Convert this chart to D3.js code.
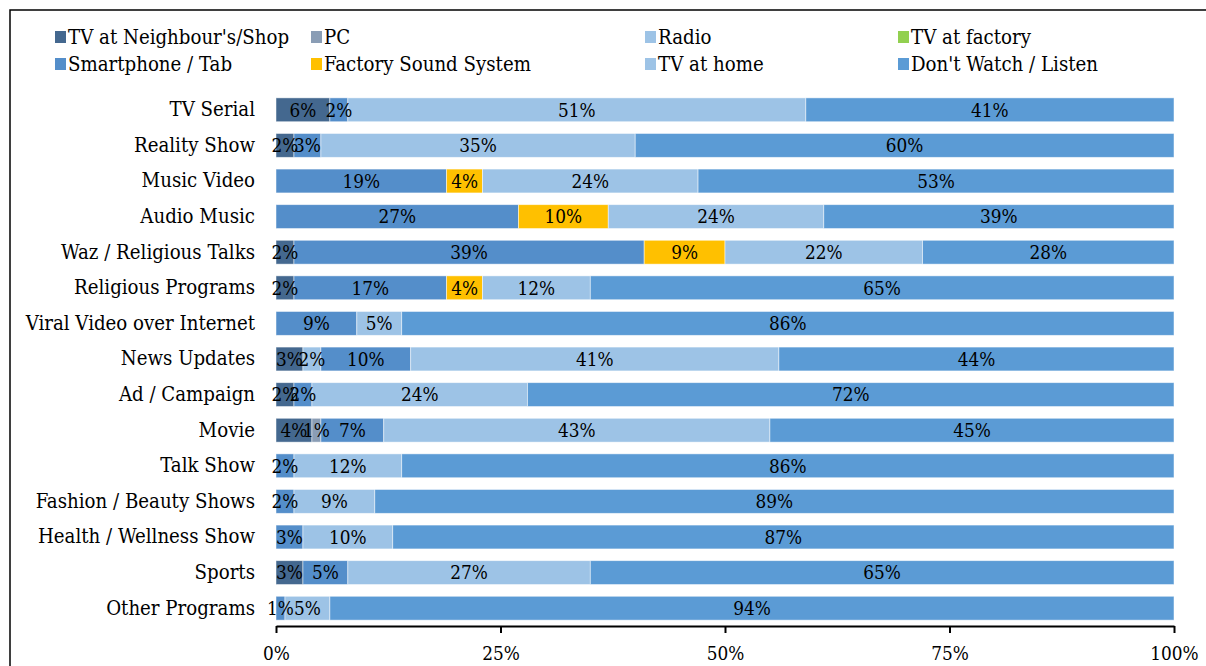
<!DOCTYPE html>
<html>
<head>
<meta charset="utf-8">
<script src="https://cdn.jsdelivr.net/npm/d3@7"></script>
<style>
  html, body { margin: 0; padding: 0; background: #fff; }
  svg { display: block; }
  text { font-family: "DejaVu Serif Condensed", "DejaVu Serif", "Liberation Serif", serif; font-stretch: condensed; fill: #000; }
</style>
</head>
<body>
<svg id="chart" width="1206" height="666"></svg>
<script>
// ---- Data ----
const categories = [
  "TV Serial", "Reality Show", "Music Video", "Audio Music", "Waz / Religious Talks",
  "Religious Programs", "Viral Video over Internet", "News Updates", "Ad / Campaign",
  "Movie", "Talk Show", "Fashion / Beauty Shows", "Health / Wellness Show", "Sports",
  "Other Programs"
];
const seriesNames = [
  "TV at Neighbour's/Shop", "PC", "Radio", "TV at factory",
  "Smartphone / Tab", "Factory Sound System", "TV at home", "Don't Watch / Listen"
];
const seriesColors = ["#44688F", "#8A9DB5", "#9DC3E6", "#92D050", "#548ECA", "#FFC000", "#9DC3E6", "#5B9BD5"];
// values per series, aligned with categories (percent)
const tvNeighbour = [6, 2, 0, 0, 2, 2, 0, 3, 2, 4, 0, 0, 0, 3, 0];
const pc          = [0, 0, 0, 0, 0, 0, 0, 0, 0, 1, 0, 0, 0, 0, 0];
const radio       = [0, 0, 0, 0, 0, 0, 0, 2, 0, 0, 0, 0, 0, 0, 0];
const tvFactory   = [0, 0, 0, 0, 0, 0, 0, 0, 0, 0, 0, 0, 0, 0, 0];
const smartphone  = [2, 3, 19, 27, 39, 17, 9, 10, 2, 7, 2, 2, 3, 5, 1];
const factorySound= [0, 0, 4, 10, 9, 4, 0, 0, 0, 0, 0, 0, 0, 0, 0];
const tvHome      = [51, 35, 24, 24, 22, 12, 5, 41, 24, 43, 12, 9, 10, 27, 5];
const dontWatch   = [41, 60, 53, 39, 28, 65, 86, 44, 72, 45, 86, 89, 87, 65, 94];
const seriesValues = [tvNeighbour, pc, radio, tvFactory, smartphone, factorySound, tvHome, dontWatch];
const xTicks = [0, 25, 50, 75, 100];

// ---- Layout ----
const svg = d3.select("#chart");
const W = 1206, H = 666;

// fit font sizes so that the serif text roughly matches the reference text widths
function measure(texts) {
  let w = 0;
  texts.forEach(t => {
    const p = svg.append("text").attr("font-size", 20).text(t);
    w += p.node().getComputedTextLength();
    p.remove();
  });
  return w;
}
const FS = 20 * 710 / measure(["TV Serial", "Waz / Religious Talks", "Other Programs", "Sports", "TV at Neighbour's/Shop"]);
const FSL = 20 * 86 / measure(["35%", "100%"]);

const rows = categories.map((c, i) => {
  const r = { category: c };
  seriesNames.forEach((s, j) => r[s] = seriesValues[j][i]);
  return r;
});
const stacked = d3.stack().keys(seriesNames)(rows);

const x = d3.scaleLinear().domain([0, 100]).range([276, 1174]);
const y = d3.scaleBand().domain(categories).range([92, 626]).paddingInner(0.33).paddingOuter(0.165);
const color = d3.scaleOrdinal().domain(seriesNames).range(seriesColors);

// frame
svg.append("path")
  .attr("d", `M10,${H + 5} L10,10 L${W + 5},10`)
  .attr("fill", "none").attr("stroke", "#000").attr("stroke-width", 1.5);

// bars
const g = svg.append("g");
stacked.forEach(layer => {
  const key = layer.key;
  const lg = g.append("g").attr("fill", color(key));
  lg.selectAll("rect").data(layer.filter(d => d[1] - d[0] > 0)).join("rect")
    .attr("x", d => x(d[0]))
    .attr("y", d => y(d.data.category))
    .attr("width", d => x(d[1]) - x(d[0]))
    .attr("height", y.bandwidth())
    .attr("stroke", "#fff").attr("stroke-opacity", 0.6).attr("stroke-width", 0.8);
});
// labels
stacked.forEach(layer => {
  g.append("g").selectAll("text").data(layer.filter(d => d[1] - d[0] > 0)).join("text")
    .attr("x", d => (x(d[0]) + x(d[1])) / 2)
    .attr("y", d => y(d.data.category) + y.bandwidth() / 2)
    .attr("dy", "0.36em")
    .attr("text-anchor", "middle")
    .attr("font-size", FSL)
    .text(d => (d[1] - d[0]) + "%");
});

// y axis labels
const yAxis = svg.append("g").attr("transform", `translate(${x(0)},0)`)
  .call(d3.axisLeft(y).tickSize(0).tickPadding(21));
yAxis.select(".domain").remove();
yAxis.selectAll("text").attr("font-size", FS).attr("font-family", null).attr("fill", "#000");

// x axis
const xAxis = svg.append("g").attr("transform", `translate(0,626)`)
  .call(d3.axisBottom(x).tickValues(xTicks).tickFormat(d => d + "%").tickSize(7).tickSizeOuter(0).tickPadding(14));
xAxis.select(".domain").attr("stroke", "#000").attr("stroke-width", 2);
xAxis.selectAll(".tick line").attr("stroke", "#000").attr("stroke-width", 2);
xAxis.selectAll("text").attr("font-size", FSL).attr("font-family", null).attr("fill", "#000");

// legend
const legendPos = [[55, 37], [311, 37], [645, 37], [898, 37], [55, 64], [311, 64], [645, 64], [898, 64]];
const leg = svg.append("g");
seriesNames.forEach((s, i) => {
  const [lx, ly] = legendPos[i];
  leg.append("rect").attr("x", lx).attr("y", ly - 6).attr("width", 11).attr("height", 12).attr("fill", color(s));
  leg.append("text").attr("x", lx + 13).attr("y", ly).attr("dy", "0.34em").attr("font-size", FS).text(s);
});
</script>
</body>
</html>
